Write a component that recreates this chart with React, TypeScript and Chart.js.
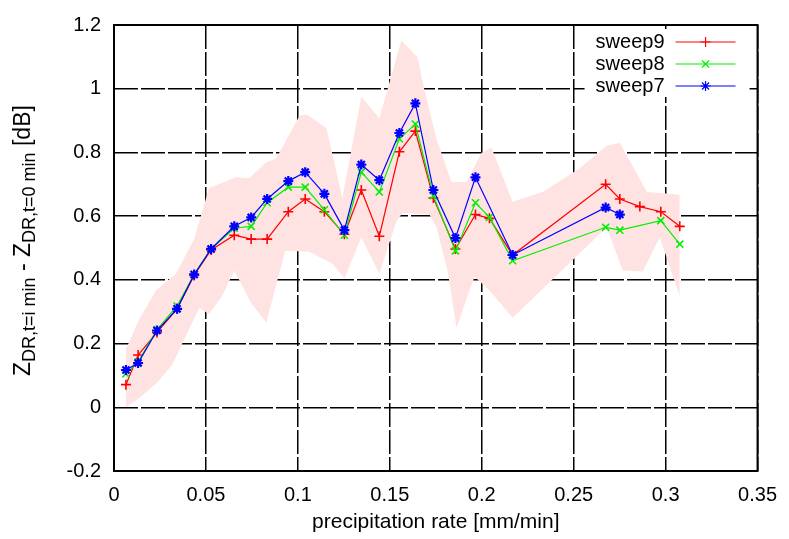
import React, { useEffect, useRef } from 'react';
import { Chart, registerables } from 'chart.js';
import { drawPoint } from 'chart.js/helpers';

Chart.register(...registerables);

// ---- data ----
const sweepX = [0.0065, 0.0131, 0.0234, 0.0343, 0.0436, 0.0528, 0.0654, 0.0746, 0.0833, 0.0948, 0.104, 0.1144, 0.1253, 0.1345, 0.1443, 0.1552, 0.1639, 0.1737, 0.1857, 0.1966, 0.2042, 0.2168, 0.2674, 0.2751, 0.286, 0.2974, 0.3077];
const sweep9 = [0.071, 0.164, 0.235, 0.309, 0.414, 0.494, 0.54, 0.528, 0.528, 0.614, 0.654, 0.614, 0.543, 0.682, 0.537, 0.802, 0.867, 0.657, 0.497, 0.605, 0.593, 0.478, 0.70, 0.654, 0.63, 0.614, 0.568];
const sweep8 = [0.105, 0.142, 0.244, 0.318, 0.417, 0.497, 0.562, 0.568, 0.642, 0.691, 0.691, 0.62, 0.54, 0.738, 0.676, 0.843, 0.889, 0.664, 0.491, 0.642, 0.596, 0.46, 0.565, 0.556, null, 0.586, 0.512];
const sweep7 = [0.117, 0.139, 0.241, 0.309, 0.417, 0.497, 0.568, 0.596, 0.654, 0.71, 0.738, 0.67, 0.556, 0.762, 0.713, 0.861, 0.954, 0.682, 0.531, 0.722, null, 0.478, 0.627, 0.605, null, null, null];

const bandUpperX = [0.0065, 0.0136, 0.0229, 0.0338, 0.0436, 0.0517, 0.0664, 0.0735, 0.0828, 0.0882, 0.1008, 0.1046, 0.1155, 0.1242, 0.1345, 0.1443, 0.1563, 0.165, 0.1688, 0.1754, 0.1835, 0.1917, 0.1999, 0.2053, 0.2168, 0.2331, 0.2533, 0.268, 0.2751, 0.2898, 0.2968, 0.3077];
const bandUpperY = [0.182, 0.275, 0.367, 0.42, 0.528, 0.688, 0.722, 0.719, 0.769, 0.781, 0.914, 0.92, 0.877, 0.657, 0.975, 0.907, 1.151, 1.099, 0.997, 0.843, 0.707, 0.707, 0.799, 0.815, 0.645, 0.676, 0.75, 0.821, 0.83, 0.676, 0.673, 0.667];
const bandLowerX = [0.0065, 0.0136, 0.0234, 0.0316, 0.0392, 0.0463, 0.0517, 0.0588, 0.0654, 0.0746, 0.0828, 0.0931, 0.1062, 0.1188, 0.1253, 0.1345, 0.1443, 0.1536, 0.1569, 0.1716, 0.1754, 0.1814, 0.1863, 0.1923, 0.1961, 0.2042, 0.2168, 0.268, 0.2767, 0.2876, 0.2968, 0.3077];
const bandLowerY = [0.0, 0.028, 0.077, 0.133, 0.225, 0.312, 0.293, 0.349, 0.429, 0.327, 0.265, 0.491, 0.488, 0.451, 0.404, 0.534, 0.42, 0.583, 0.611, 0.605, 0.565, 0.429, 0.25, 0.349, 0.41, 0.367, 0.281, 0.565, 0.429, 0.426, 0.534, 0.349];

const xTickValues = [0, 0.05, 0.1, 0.15, 0.2, 0.25, 0.3, 0.35];
const xTickLabels = ['0', '0.05', '0.1', '0.15', '0.2', '0.25', '0.3', '0.35'];
const yTickValues = [-0.2, 0, 0.2, 0.4, 0.6, 0.8, 1.0, 1.2];
const yTickLabels = ['-0.2', '0', '0.2', '0.4', '0.6', '0.8', '1', '1.2'];

const seriesNames = ['sweep9', 'sweep8', 'sweep7'];
const seriesColors = ['#ff0000', '#00f000', '#0000ff'];
const seriesStyles = ['cross', 'crossRot', 'star'];

const xTitle = 'precipitation rate [mm/min]';
const yTitleParts = [
  { t: 'Z', sub: false },
  { t: 'DR,t=i min', sub: true },
  { t: ' - ', sub: false },
  { t: 'Z', sub: false },
  { t: 'DR,t=0 min', sub: true },
  { t: ' [dB]', sub: false },
];

const FONT = "'Liberation Sans', Arial, Helvetica, sans-serif";
const BAND = '#ffe2e2';

const pts = (xs: number[], ys: (number | null)[]) => xs.map((x, i) => ({ x, y: ys[i] }));

const framePlugin = {
  id: 'frame',
  afterDatasetsDraw(chart: any) {
    const { ctx, chartArea: a } = chart;
    ctx.save();
    ctx.strokeStyle = '#000';
    ctx.lineWidth = 2;
    ctx.strokeRect(a.left, a.top, a.right - a.left, a.bottom - a.top);
    ctx.restore();
  },
};

const legendPlugin = {
  id: 'keyBox',
  afterDatasetsDraw(chart: any) {
    const { ctx, chartArea: a } = chart;
    ctx.save();
    ctx.fillStyle = '#fff';
    ctx.fillRect(a.right - 173, a.top + 4, 165, 68);
    ctx.font = `20px ${FONT}`;
    ctx.textAlign = 'right';
    ctx.textBaseline = 'middle';
    seriesNames.forEach((name, i) => {
      const y = a.top + 17 + i * 22;
      ctx.fillStyle = '#000';
      ctx.fillText(name, a.right - 93, y);
      ctx.strokeStyle = seriesColors[i];
      ctx.fillStyle = seriesColors[i];
      ctx.lineWidth = 1.2;
      ctx.beginPath();
      ctx.moveTo(a.right - 82, y);
      ctx.lineTo(a.right - 22, y);
      ctx.stroke();
      drawPoint(ctx, { pointStyle: seriesStyles[i], radius: 5, borderWidth: i === 2 ? 2.2 : 1.6, rotation: 0 } as any, a.right - 52, y);
    });
    ctx.restore();
  },
};

const yTitlePlugin = {
  id: 'yTitle',
  afterDraw(chart: any) {
    const { ctx } = chart;
    ctx.save();
    ctx.translate(30, 376);
    ctx.rotate(-Math.PI / 2);
    ctx.fillStyle = '#000';
    ctx.textAlign = 'left';
    ctx.textBaseline = 'alphabetic';
    let x = 0;
    yTitleParts.forEach((p) => {
      ctx.font = p.sub ? `18px ${FONT}` : `23px ${FONT}`;
      ctx.fillText(p.t, x, p.sub ? 5 : 0);
      x += ctx.measureText(p.t).width;
    });
    ctx.restore();
  },
};

export default function App() {
  const ref = useRef<HTMLCanvasElement>(null);
  useEffect(() => {
    const canvas = ref.current!;
    const seriesData = [sweep9, sweep8, sweep7];
    const chart = new Chart(canvas, {
      type: 'line',
      data: {
        datasets: [
          {
            label: 'bandUpper',
            data: pts(bandUpperX, bandUpperY),
            borderColor: 'rgba(0,0,0,0)',
            borderWidth: 0,
            pointRadius: 0,
            fill: false,
            tension: 0,
            order: 10,
          },
          {
            label: 'bandLower',
            data: pts(bandLowerX, bandLowerY),
            borderColor: 'rgba(0,0,0,0)',
            borderWidth: 0,
            pointRadius: 0,
            fill: 0,
            backgroundColor: BAND,
            tension: 0,
            order: 9,
          },
          ...seriesNames.map((name, i) => ({
            label: name,
            data: pts(sweepX, seriesData[i]),
            borderColor: seriesColors[i],
            backgroundColor: seriesColors[i],
            borderWidth: 1.2,
            pointStyle: seriesStyles[i] as any,
            pointRadius: 5,
            pointBorderWidth: i === 2 ? 2.2 : 1.6,
            pointBorderColor: seriesColors[i],
            pointBackgroundColor: seriesColors[i],
            spanGaps: true,
            fill: false,
            tension: 0,
            order: 3 - i,
          })),
        ],
      },
      options: {
        animation: false,
        responsive: true,
        maintainAspectRatio: false,
        events: [],
        layout: { padding: { left: 0, top: 17, right: 31, bottom: 0 } },
        plugins: { legend: { display: false }, tooltip: { enabled: false } },
        scales: {
          x: {
            type: 'linear',
            min: 0,
            max: 0.35,
            afterBuildTicks: (s: any) => {
              s.ticks = xTickValues.map((value) => ({ value }));
            },
            afterFit: (s: any) => {
              s.height = 68;
            },
            ticks: {
              callback: (_v: any, i: number) => xTickLabels[i],
              font: { size: 20, family: FONT },
              color: '#000',
              padding: 12,
              maxRotation: 0,
              autoSkip: false,
            },
            grid: { color: '#000', lineWidth: 1.5, drawTicks: false },
            border: { display: false, dash: [24, 3] },
            title: {
              display: true,
              text: xTitle,
              color: '#000',
              font: { size: 21, family: FONT },
              padding: { top: 0, bottom: 4 },
            },
          },
          y: {
            type: 'linear',
            min: -0.2,
            max: 1.2,
            afterBuildTicks: (s: any) => {
              s.ticks = yTickValues.map((value) => ({ value }));
            },
            afterFit: (s: any) => {
              s.width = 114;
            },
            ticks: {
              callback: (_v: any, i: number) => yTickLabels[i],
              font: { size: 20, family: FONT },
              color: '#000',
              padding: 13,
              autoSkip: false,
            },
            grid: { color: '#000', lineWidth: 1.5, drawTicks: false },
            border: { display: false, dash: [24, 3] },
          },
        },
      },
      plugins: [framePlugin, legendPlugin, yTitlePlugin],
    } as any);
    return () => chart.destroy();
  }, []);
  return (
    <div style={{ position: 'fixed', left: 0, top: 0, width: 789, height: 539, background: '#fff' }}>
      <canvas ref={ref} style={{ display: 'block', width: '100%', height: '100%' }} />
    </div>
  );
}
